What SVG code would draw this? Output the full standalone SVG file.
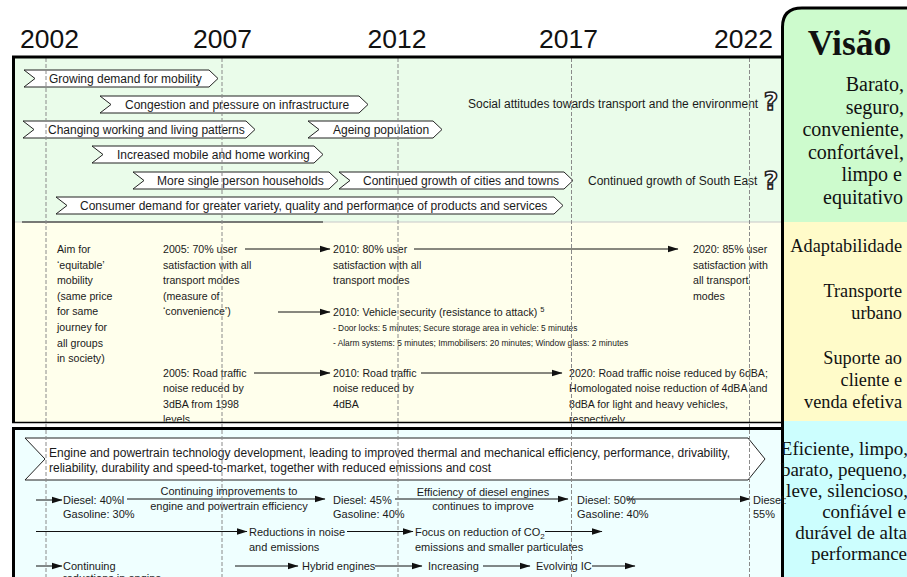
<svg xmlns="http://www.w3.org/2000/svg" width="907" height="577" viewBox="0 0 907 577">
<defs>
  <marker id="ah" markerWidth="11" markerHeight="8" refX="10.5" refY="4" orient="auto" markerUnits="userSpaceOnUse">
    <path d="M0,0.5 L11,4 L0,7.5 Z" fill="#111"/>
  </marker>
  <clipPath id="clipTargets"><rect x="14" y="222" width="768" height="199.5"/></clipPath>
</defs>
<style>
  .yr{font-family:"Liberation Sans",Arial,sans-serif;font-size:26.5px;fill:#111;text-anchor:middle}
  .bn polygon{fill:#fff;stroke:#222;stroke-width:1}
  .bn text{font-family:"Liberation Sans",Arial,sans-serif;font-size:12px;fill:#1a1a1a}
  .lbl{font-family:"Liberation Sans",Arial,sans-serif;font-size:12px;fill:#1a1a1a}
  .t{font-family:"Liberation Sans",Arial,sans-serif;font-size:10.6px;fill:#1a1a1a}
  .s{font-family:"Liberation Sans",Arial,sans-serif;font-size:8.4px;fill:#1a1a1a}
  .b{font-family:"Liberation Sans",Arial,sans-serif;font-size:11px;fill:#1a1a1a}
  .mid{text-anchor:middle}
  .v{font-family:"Liberation Serif","Times New Roman",serif;font-size:19px;fill:#111;text-anchor:end}
  .vg{font-size:20px}
  .vy{font-size:18.3px}
  .q{font-family:"DejaVu Sans",sans-serif;font-weight:bold;font-size:25px;fill:#fff;stroke:#222;stroke-width:1.5;paint-order:fill;text-anchor:middle}
  .grid line{stroke:#8a8a8a;stroke-width:1;stroke-dasharray:4 2}
  .conn line{stroke:#111;stroke-width:1;marker-end:url(#ah)}
  .frame{fill:none;stroke:#000}
</style>

<!-- background bands -->
<rect x="0" y="0" width="907" height="577" fill="#fff"/>
<rect x="14" y="57" width="768" height="165" fill="#EAFCEA"/>
<rect x="14" y="222" width="768" height="200" fill="#FFFFEC"/>
<rect x="14" y="428" width="768" height="149" fill="#EFFFFF"/>
<line x1="14" y1="222" x2="782" y2="222" stroke="#c8c8c8" stroke-width="1"/>
<line x1="22" y1="222" x2="323" y2="222" stroke="#111" stroke-width="1"/>

<!-- vision panel -->
<g id="vision-panel">
  <path d="M782,577 V28 Q782,8 802,8 H907 V577 Z" fill="#CDFBCD"/>
  <rect x="782" y="222" width="125" height="199" fill="#FFFBC9"/>
  <rect x="782" y="421" width="125" height="156" fill="#CCFEFE"/>
  <path class="frame" d="M782.5,577 V27 Q782.5,8 802,8 H907" stroke-width="3"/>
  <text x="849.5" y="55" font-family="'Liberation Serif','Times New Roman',serif" font-weight="bold" font-size="35.5" fill="#111" text-anchor="middle">Visão</text>
  <text class="v vg" x="904" y="91">Barato,</text>
  <text class="v vg" x="904" y="113.5">seguro,</text>
  <text class="v vg" x="904" y="136">conveniente,</text>
  <text class="v vg" x="904" y="158.5">confortável,</text>
  <text class="v vg" x="902" y="181">limpo e</text>
  <text class="v vg" x="903" y="203.5">equitativo</text>
  <text class="v vy" x="902" y="252">Adaptabilidade</text>
  <text class="v vy" x="902" y="297">Transporte</text>
  <text class="v vy" x="902" y="319">urbano</text>
  <text class="v vy" x="902" y="363.5">Suporte ao</text>
  <text class="v vy" x="902" y="385.5">cliente e</text>
  <text class="v vy" x="902" y="407.5">venda efetiva</text>
  <text class="v" x="908" y="455">Eficiente, limpo,</text>
  <text class="v" x="907" y="476">barato, pequeno,</text>
  <text class="v" x="908" y="497">leve, silencioso,</text>
  <text class="v" x="906" y="518">confiável e</text>
  <text class="v" x="907" y="539">durável de alta</text>
  <text class="v" x="907" y="560">performance</text>
</g>

<!-- year scale -->
<g id="years">
  <text class="yr" x="49.5" y="47.5">2002</text>
  <text class="yr" x="222.5" y="47.5">2007</text>
  <text class="yr" x="397" y="47.5">2012</text>
  <text class="yr" x="568.5" y="47.5">2017</text>
  <text class="yr" x="743.5" y="47.5">2022</text>
</g>

<!-- drivers -->
<g id="drv-mobility" class="bn">
  <polygon points="24,70 209,70 218,78.5 209,87 24,87 35,78.5"/>
  <text x="49" y="83">Growing demand for mobility</text>
</g>
<g id="drv-congestion" class="bn">
  <polygon points="100,96 359,96 368,104.5 359,113 100,113 111,104.5"/>
  <text x="125" y="109">Congestion and pressure on infrastructure</text>
</g>
<g id="drv-social">
  <text class="lbl" x="468" y="108">Social attitudes towards transport and the environment</text>
  <text class="q" x="771" y="110">?</text>
</g>
<g id="drv-patterns" class="bn">
  <polygon points="23,121 246,121 255,129.5 246,138 23,138 34,129.5"/>
  <text x="48" y="134">Changing working and living patterns</text>
</g>
<g id="drv-ageing" class="bn">
  <polygon points="308,121 433,121 442,129.5 433,138 308,138 319,129.5"/>
  <text x="333" y="134">Ageing population</text>
</g>
<g id="drv-homeworking" class="bn">
  <polygon points="92,146 314,146 323,154.5 314,163 92,163 103,154.5"/>
  <text x="117" y="159">Increased mobile and home working</text>
</g>
<g id="drv-households" class="bn">
  <polygon points="133,172 329,172 338,180.5 329,189 133,189 144,180.5"/>
  <text x="157" y="185">More single person households</text>
</g>
<g id="drv-cities" class="bn">
  <polygon points="339,172 564,172 573,180.5 564,189 339,189 350,180.5"/>
  <text x="363" y="185">Continued growth of cities and towns</text>
</g>
<g id="drv-southeast">
  <text class="lbl" x="588" y="185">Continued growth of South East</text>
  <text class="q" x="771" y="189">?</text>
</g>
<g id="drv-consumer" class="bn">
  <polygon points="56,197 554,197 563,205.5 554,214 56,214 67,205.5"/>
  <text x="80" y="210">Consumer demand for greater variety, quality and performance of products and services</text>
</g>

<!-- targets -->
<g clip-path="url(#clipTargets)">
  <g id="tgt-equitable" class="t">
    <text x="57" y="253">Aim for</text>
    <text x="57" y="268.6">‘equitable’</text>
    <text x="57" y="284.2">mobility</text>
    <text x="57" y="299.8">(same price</text>
    <text x="57" y="315.4">for same</text>
    <text x="57" y="331">journey for</text>
    <text x="57" y="346.6">all groups</text>
    <text x="57" y="362.2">in society)</text>
  </g>
  <g id="tgt-sat2005" class="t">
    <text x="163" y="253">2005: 70% user</text>
    <text x="163" y="268.6">satisfaction with all</text>
    <text x="163" y="284.2">transport modes</text>
    <text x="163" y="299.8">(measure of</text>
    <text x="163" y="315.4">‘convenience’)</text>
  </g>
  <g id="tgt-sat2010" class="t">
    <text x="333" y="253">2010: 80% user</text>
    <text x="333" y="268.6">satisfaction with all</text>
    <text x="333" y="284.2">transport modes</text>
  </g>
  <g id="tgt-sat2020" class="t">
    <text x="693" y="253">2020: 85% user</text>
    <text x="693" y="268.6">satisfaction with</text>
    <text x="693" y="284.2">all transport</text>
    <text x="693" y="299.8">modes</text>
  </g>
  <g id="tgt-security">
    <text class="t" x="333" y="316">2010: Vehicle security (resistance to attack) <tspan font-size="7.5" dy="-4.5">5</tspan></text>
    <text class="s" x="333" y="330.5">- Door locks: 5 minutes; Secure storage area in vehicle: 5 minutes</text>
    <text class="s" x="333" y="345.5">- Alarm systems: 5 minutes; Immobilisers: 20 minutes; Window glass: 2 minutes</text>
  </g>
  <g id="tgt-noise2005" class="t">
    <text x="163" y="377">2005: Road traffic</text>
    <text x="163" y="392.2">noise reduced by</text>
    <text x="163" y="407.6">3dBA from 1998</text>
    <text x="163" y="423">levels</text>
  </g>
  <g id="tgt-noise2010" class="t">
    <text x="333" y="377">2010: Road traffic</text>
    <text x="333" y="392.2">noise reduced by</text>
    <text x="333" y="407.6">4dBA</text>
  </g>
  <g id="tgt-noise2020" class="t">
    <text x="569" y="377">2020: Road traffic noise reduced by 6dBA;</text>
    <text x="569" y="392.2">Homologated noise reduction of 4dBA and</text>
    <text x="569" y="407.6">8dBA for light and heavy vehicles,</text>
    <text x="569" y="423">respectively</text>
  </g>
</g>

<!-- technology -->
<g id="tech-engine" class="bn">
  <polygon points="25,438 748,438 765,459 748,480 25,480 45,459"/>
  <text x="49" y="457">Engine and powertrain technology development, leading to improved thermal and mechanical efficiency, performance, drivability,</text>
  <text x="49" y="472">reliability, durability and speed-to-market, together with reduced emissions and cost</text>
</g>
<g id="tech-eff2002" class="b">
  <text x="63" y="504">Diesel: 40%l</text>
  <text x="63" y="517.5">Gasoline: 30%</text>
</g>
<g id="tech-eff2010" class="b">
  <text x="333" y="504">Diesel: 45%</text>
  <text x="333" y="517.5">Gasoline: 40%</text>
</g>
<g id="tech-eff2017" class="b">
  <text x="577" y="504">Diesel: 50%</text>
  <text x="577" y="517.5">Gasoline: 40%</text>
</g>
<g id="tech-eff2022" class="b">
  <text x="753" y="504">Diesel:</text>
  <text x="753" y="517.5">55%</text>
</g>
<g id="tech-noise" class="b">
  <text x="249" y="535.5">Reductions in noise</text>
  <text x="249" y="551">and emissions</text>
</g>
<g id="tech-co2" class="b">
  <text x="415" y="535.5">Focus on reduction of CO<tspan font-size="8" dy="3">2</tspan></text>
  <text x="415" y="551">emissions and smaller particulates</text>
</g>
<g id="tech-reductions" class="b">
  <text x="63" y="569.5">Continuing</text>
  <text x="63" y="582">reductions in engine</text>
</g>
<g id="tech-hybrid" class="b"><text x="302" y="570">Hybrid engines</text></g>
<g id="tech-increasing" class="b"><text x="428" y="570">Increasing</text></g>
<g id="tech-evolving" class="b"><text x="536" y="570">Evolving IC</text></g>

<!-- connectors -->
<g id="connectors" class="conn">
  <line x1="245" y1="249" x2="330" y2="249"/>
  <line x1="414" y1="249" x2="678" y2="249"/>
  <line x1="278" y1="312" x2="330" y2="312"/>
  <line x1="254" y1="373" x2="330" y2="373"/>
  <line x1="421" y1="373" x2="562" y2="373"/>

  <line x1="36" y1="500" x2="62" y2="500"/>
  <line x1="127" y1="499" x2="325" y2="499"/>
  <line x1="395" y1="499" x2="568" y2="499"/>
  <line x1="627" y1="499" x2="750" y2="499"/>

  <line x1="36" y1="531.5" x2="247" y2="531.5"/>
  <line x1="347" y1="531.5" x2="413" y2="531.5"/>
  <line x1="545" y1="531.5" x2="602" y2="531.5"/>

  <line x1="36" y1="566" x2="62" y2="566"/>
  <line x1="235" y1="566" x2="298" y2="566"/>
  <line x1="375" y1="566" x2="422" y2="566"/>
  <line x1="483" y1="566" x2="530" y2="566"/>
  <line x1="592" y1="566" x2="635" y2="566"/>
</g>
<g id="arrow-labels" class="b mid">
  <text x="229" y="495">Continuing improvements to</text>
  <text x="229" y="510">engine and powertrain efficiency</text>
  <text x="483" y="496">Efficiency of diesel engines</text>
  <text x="483" y="509.5">continues to improve</text>
</g>

<!-- year grid -->
<g id="grid" class="grid">
  <line x1="46" y1="58" x2="46" y2="577"/>
  <line x1="222" y1="58" x2="222" y2="577"/>
  <line x1="398" y1="58" x2="398" y2="577"/>
  <line x1="571.5" y1="58" x2="571.5" y2="577"/>
  <line x1="749.5" y1="58" x2="749.5" y2="577"/>
</g>

<!-- frame lines -->
<path class="frame" d="M12,57 H782" stroke-width="3"/>
<path class="frame" d="M13.5,56 V422" stroke-width="3"/>
<path class="frame" d="M12,422.5 H782" stroke-width="1.5"/>
<path class="frame" d="M12,428.5 H782" stroke-width="3"/>
<path class="frame" d="M13.5,427 V577" stroke-width="3"/>
</svg>
